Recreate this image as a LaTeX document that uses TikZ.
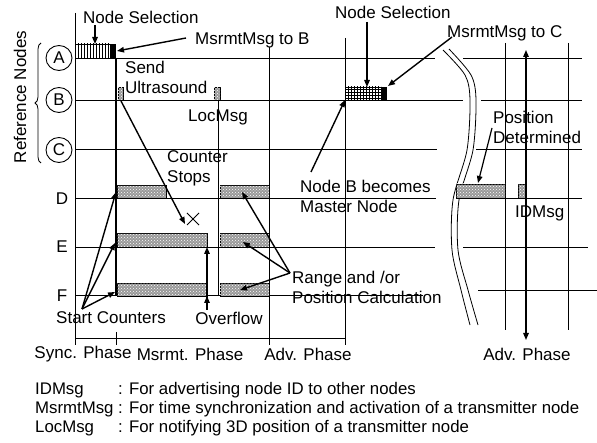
\documentclass[tikz,border=0pt]{standalone}
\usepackage{fontspec}
\setmainfont{Liberation Sans}
\usetikzlibrary{patterns,arrows.meta,decorations.pathreplacing,shapes.misc,shapes.geometric}
\begin{document}
\begin{tikzpicture}[x=1pt,y=-1pt,
  font=\fontsize{17}{20}\selectfont,
  gline/.style={line width=0.9pt},
  arr/.style={-{Triangle[length=7pt,width=5.5pt]}, line width=1.4pt},
  txt/.style={inner sep=0pt, anchor=west, align=left},
  ctxt/.style={inner sep=0pt},
  legend/.style={inner sep=0pt, anchor=west, font=\fontsize{16.8}{20}\selectfont},
  bar/.style={draw, line width=0.8pt, fill=gray!80, postaction={pattern=crosshatch dots, pattern color=white}},
  vbox/.style={draw, line width=0.8pt, pattern=vertical lines},
  gbox/.style={draw, line width=0.8pt, pattern=grid},
  circ/.style={ellipse, draw, line width=0.9pt, minimum width=26pt, minimum height=25pt, inner sep=0pt},
]
\useasboundingbox (0,0) rectangle (597,443);

% ---------- row lines (left section) ----------
\draw[gline] (75,58) -- (435,58);
\draw[gline] (75,100) -- (463,100);
\draw[gline] (75,149) -- (437,149);
\draw[gline] (75,198) -- (436,198);
\draw[gline] (75,247) -- (435,247);
\draw[gline] (75,295) -- (423,295);
% ---------- row lines (right section) ----------
\draw[gline] (463,58) -- (582,58);
\draw[gline] (481,100) -- (582,100);
\draw[gline] (476,149) -- (582,149);
\draw[gline] (460,198) -- (582,198);
\draw[gline] (463,247) -- (588,247);
\draw[gline] (478,290) -- (597,290);

% ---------- vertical lines ----------
\draw[gline] (75,13) -- (75,345);
\draw[gline] (218,100) -- (218,296);
\draw[gline] (269,47) -- (269,345);
\draw[gline] (345,38) -- (345,345);
\draw[gline] (505,43) -- (505,330);
\draw[gline] (568,43) -- (568,330);
\draw[line width=2pt] (116,58) -- (116,296);

% ---------- phase axis ----------
\draw[gline] (75,338) -- (345,338);
\draw[gline] (116,332) -- (116,345);

% ---------- break curves ----------
\draw[line width=0.8pt] plot[smooth] coordinates {(443,50) (465,75) (470,100) (467,150) (453,200) (452,250) (461,290) (470,325)};
\draw[line width=0.8pt] plot[smooth] coordinates {(449,49) (471,75) (476,100) (473,150) (459,200) (458,250) (468,290) (478,325)};

% ---------- boxes ----------
\path[vbox] (75,44) rectangle (110,58);
\fill (110,44) rectangle (116,58);
\path[bar] (118,87) rectangle (123,100);
\path[bar] (214,87) rectangle (220,100);
\path[bar] (117,185) rectangle (166,198);
\path[bar] (117,233) rectangle (207,247);
\path[bar] (117,283) rectangle (207,296);
\path[bar] (220,185) rectangle (269,198);
\path[bar] (220,233) rectangle (269,247);
\path[bar] (220,283) rectangle (269,296);
\path[gbox] (345,87) rectangle (381,100);
\fill (381,87) rectangle (387,100);
\path[bar] (456,184) rectangle (505,198);
\path[bar] (518,184) rectangle (526,198);

% ---------- reference node labels ----------
\node[circ] (nA) at (59,58) {A};
\node[circ] (nB) at (59,100) {B};
\node[circ] (nC) at (59,150) {C};
\node[ctxt] (nD) at (62,199) {D};
\node[ctxt] (nE) at (62,247) {E};
\node[ctxt] (nF) at (62,296) {F};
\draw[decorate, decoration={brace, amplitude=6pt}, line width=0.8pt] (41,163) -- (41,43);
\node[ctxt, rotate=90] (refn) at (20,97) {Reference Nodes};

% ---------- texts ----------
\node[txt] (ns1) at (83,17) {Node Selection};
\node[txt] (msB) at (195,40) {MsrmtMsg to B};
\node[txt] (su) at (125,77) {Send\\Ultrasound};
\node[txt] (loc) at (188,117) {LocMsg};
\node[txt] (cs) at (167,168) {Counter\\Stops};
\node[draw, cross out, line width=1pt, minimum size=11pt, inner sep=0pt] (xm) at (193,219) {};
\node[ctxt] (sc) at (111,318) {Start Counters};
\node[ctxt] (ov) at (229,318) {Overflow};
\node[txt] (rp) at (292,287) {Range and /or\\Position Calculation};
\node[txt] (nbm) at (300,196) {Node B becomes\\Master Node};
\node[txt] (ns2) at (335,12) {Node Selection};
\node[txt] (msC) at (447,33) {MsrmtMsg to C};
\node[txt] (pd) at (493,127) {Position\\Determined};
\node[txt] (idm) at (515,213) {IDMsg};

\node[ctxt] (ph1) at (83,354) {Sync. Phase};
\node[ctxt] (ph2) at (190,354) {Msrmt. Phase};
\node[ctxt] (ph3) at (308,354) {Adv. Phase};
\node[ctxt] (ph4) at (527,354) {Adv. Phase};

\node[legend] (l1) at (35,390) {IDMsg};
\node[legend] (l2) at (35,409) {MsrmtMsg};
\node[legend] (l3) at (35,428) {LocMsg};
\node[legend] (d1) at (118,390) {: For advertising node ID to other nodes};
\node[legend] (d2) at (118,409) {: For time synchronization and activation of a transmitter node};
\node[legend] (d3) at (118,428) {: For notifying 3D position of a transmitter node};

% ---------- arrow anchor points ----------
\coordinate (ns1s) at (95,25);
\coordinate (aTop) at (95,44);
\coordinate (msBs) at (186,38);
\coordinate (aEnd) at (117,51);
\coordinate (sus) at (121,101);
\coordinate (xmt) at (185,224);
\coordinate (scs) at (82,309);
\coordinate (dL) at (116,192);
\coordinate (eL) at (115,243);
\coordinate (fL) at (115,292);
\coordinate (ovs) at (207,310);
\coordinate (eB) at (207,247);
\coordinate (fB) at (207,296);
\coordinate (rps) at (290,273);
\coordinate (dR) at (242,192);
\coordinate (eR) at (243,242);
\coordinate (fR) at (240,290);
\coordinate (nbs) at (311,172);
\coordinate (bBox) at (345,100);
\coordinate (ns2s) at (367,22);
\coordinate (bTop) at (367,87);
\coordinate (msCs) at (452,37);
\coordinate (bEnd) at (388,86);
\coordinate (pds) at (492,128);
\coordinate (dBar) at (478,183);
\coordinate (idTop) at (526,50);
\coordinate (idBot) at (526,340);

% ---------- arrows ----------
\draw[arr] (ns1s) -- (aTop);
\draw[arr] (msBs) -- (aEnd);
\draw[arr] (sus) -- (xmt);
\draw[arr] (scs) -- (dL);
\draw[arr] (scs) -- (eL);
\draw[arr] (scs) -- (fL);
\draw[arr] (ovs) -- (eB);
\draw[arr] (ovs) -- (fB);
\draw[arr] (rps) -- (dR);
\draw[arr] (rps) -- (eR);
\draw[arr] (rps) -- (fR);
\draw[arr] (nbs) -- (bBox);
\draw[arr] (ns2s) -- (bTop);
\draw[arr] (msCs) -- (bEnd);
\draw[arr, line width=1.2pt] (pds) -- (dBar);
\draw[{Triangle[length=7pt,width=5.5pt]}-{Triangle[length=7pt,width=5.5pt]}, line width=1.4pt] (idTop) -- (idBot);
\end{tikzpicture}
\end{document}
